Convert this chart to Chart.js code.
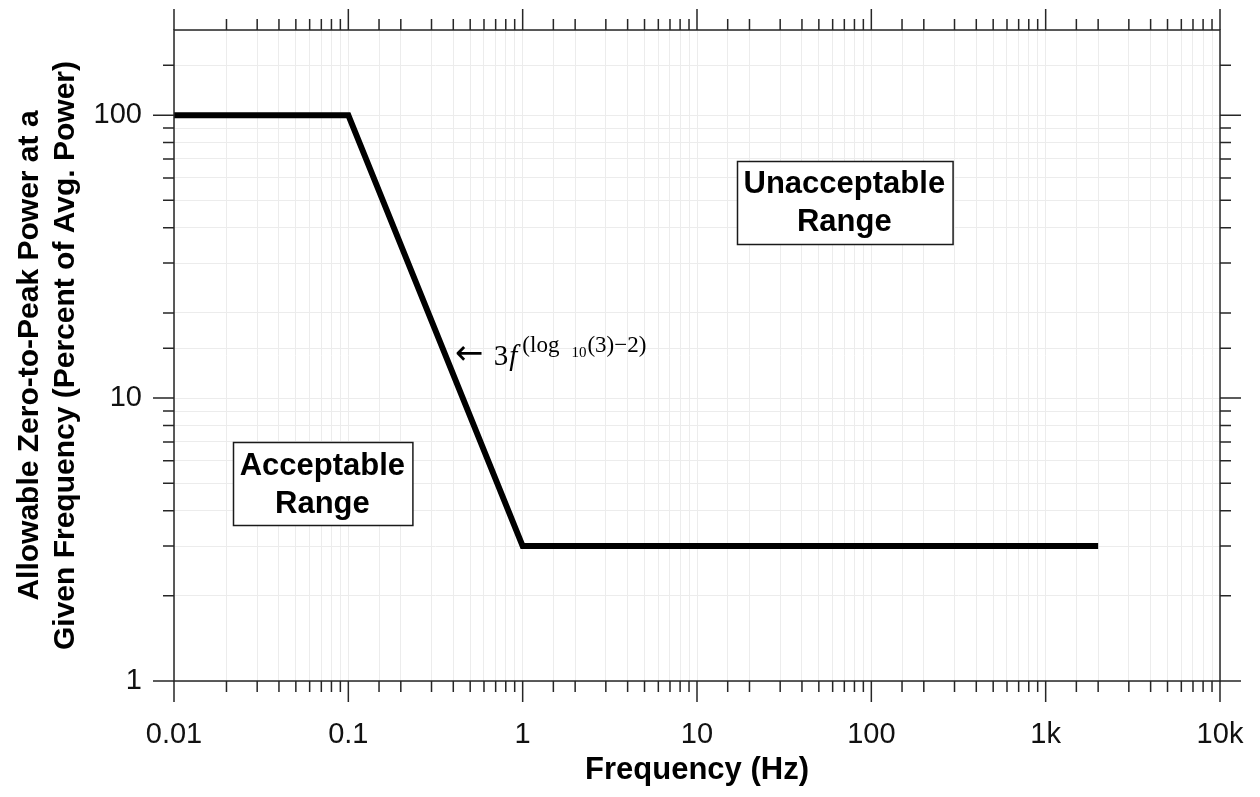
<!DOCTYPE html>
<html>
<head>
<meta charset="utf-8">
<script src="https://cdn.jsdelivr.net/npm/chart.js@4.4.0/dist/chart.umd.min.js"></script>
<style>
html,body{margin:0;padding:0;background:#ffffff;overflow:hidden}
canvas{display:block}
</style>
</head>
<body>
<canvas id="chart" width="1260" height="797"></canvas>
<script>
// ---- data ----
const frequencyHz = [0.01, 0.1, 1, 2000];
const allowablePercent = [100, 100, 3, 3];

const xMajorTicks = [0.01, 0.1, 1, 10, 100, 1000, 10000];
const xMajorLabels = ['0.01', '0.1', '1', '10', '100', '1k', '10k'];
const yMajorTicks = [1, 10, 100];
const yMajorLabels = ['1', '10', '100'];

const xTitle = 'Frequency (Hz)';
const yTitle = ['Allowable Zero-to-Peak Power at a', 'Given Frequency (Percent of Avg. Power)'];

const regionTexts = [['Unacceptable', 'Range'], ['Acceptable', 'Range']];
const regionFreq = [70, 0.071];
const regionPercent = [49, 4.97];

const formulaFreq = 0.408;
const formulaPercent = 14.2;

// ---- helpers ----
function majorIndex(v, majors) {
  const lv = Math.log10(v);
  for (let i = 0; i < majors.length; i++) {
    if (Math.abs(lv - Math.log10(majors[i])) < 1e-6) return i;
  }
  return -1;
}
function isMajor(v) {
  const lv = Math.log10(v);
  return Math.abs(lv - Math.round(lv)) < 1e-6;
}

const AXIS_COLOR = '#262626';
const SANS = '"Liberation Sans", Arial, Helvetica, sans-serif';
const SERIF = '"Liberation Serif", "DejaVu Serif", "Times New Roman", serif';

const decorPlugin = {
  id: 'decor',
  afterDraw(chart) {
    const ctx = chart.ctx;
    const a = chart.chartArea;
    const xs = chart.scales.x, ys = chart.scales.y;
    ctx.save();
    // frame
    ctx.strokeStyle = AXIS_COLOR;
    ctx.lineWidth = 1.5;
    ctx.strokeRect(a.left, a.top, a.right - a.left, a.bottom - a.top);
    // ticks (outward, all four sides)
    ctx.beginPath();
    xs.ticks.forEach(t => {
      const p = xs.getPixelForValue(t.value);
      if (p < a.left - 1 || p > a.right + 1) return;
      const L = isMajor(t.value) ? 21 : 11;
      ctx.moveTo(p, a.bottom); ctx.lineTo(p, a.bottom + L);
      ctx.moveTo(p, a.top); ctx.lineTo(p, a.top - L);
    });
    ys.ticks.forEach(t => {
      const maj = isMajor(t.value);
      if (!maj && t.value >= ys.max) return;
      const p = ys.getPixelForValue(t.value);
      if (p < a.top - 1 || p > a.bottom + 1) return;
      const L = maj ? 21 : 11;
      ctx.moveTo(a.left, p); ctx.lineTo(a.left - L, p);
      ctx.moveTo(a.right, p); ctx.lineTo(a.right + L, p);
    });
    ctx.stroke();

    // region boxes
    ctx.font = 'bold 31px ' + SANS;
    ctx.textAlign = 'center';
    ctx.textBaseline = 'middle';
    regionTexts.forEach((lines, i) => {
      const cx = xs.getPixelForValue(regionFreq[i]);
      const cy = ys.getPixelForValue(regionPercent[i]);
      const w = Math.max(...lines.map(s => ctx.measureText(s).width)) + 14;
      const lh = 38;
      const h = lh * lines.length + 7;
      const x0 = Math.round(cx - w / 2) + 0.5, y0 = Math.round(cy - h / 2) + 0.5;
      ctx.fillStyle = '#ffffff';
      ctx.fillRect(x0, y0, w, h);
      ctx.strokeStyle = '#1a1a1a';
      ctx.lineWidth = 1.5;
      ctx.strokeRect(x0, y0, w, h);
      ctx.fillStyle = '#000000';
      lines.forEach((s, k) => {
        ctx.fillText(s, cx, cy + (k - (lines.length - 1) / 2) * lh + 1);
      });
    });

    // formula annotation
    const fx = xs.getPixelForValue(formulaFreq);
    const fy = ys.getPixelForValue(formulaPercent);
    const base = fy + 10;
    ctx.textAlign = 'left';
    ctx.textBaseline = 'alphabetic';
    ctx.fillStyle = '#000000';
    let cx = fx;
    ctx.font = '34px "DejaVu Sans", ' + SERIF;
    ctx.fillText('\u2190', cx, base - 1);
    cx = fx + 39;
    ctx.font = '29px ' + SERIF;
    ctx.fillText('3', cx, base);
    cx += ctx.measureText('3').width + 1;
    ctx.font = 'italic 29px ' + SERIF;
    ctx.fillText('f', cx, base);
    cx += ctx.measureText('f').width + 5;
    const supBase = base - 13;
    ctx.font = '23px ' + SERIF;
    ctx.fillText('(log', cx, supBase);
    cx += ctx.measureText('(log').width + 12;
    ctx.font = '15px ' + SERIF;
    ctx.fillText('10', cx, supBase + 5);
    cx += ctx.measureText('10').width + 1;
    ctx.font = '23px ' + SERIF;
    ctx.fillText('(3)\u22122)', cx, supBase);

    ctx.restore();
  }
};

const gridColor = '#ececec';

new Chart(document.getElementById('chart'), {
  type: 'line',
  data: {
    datasets: [{
      data: frequencyHz.map((f, i) => ({ x: f, y: allowablePercent[i] })),
      borderColor: '#000000',
      borderWidth: 6,
      pointRadius: 0,
      tension: 0,
      fill: false,
      borderJoinStyle: 'miter',
      borderCapStyle: 'butt'
    }]
  },
  options: {
    responsive: false,
    animation: false,
    devicePixelRatio: 1,
    layout: { padding: { top: 30, right: 40, left: 0, bottom: 0 } },
    plugins: { legend: { display: false }, tooltip: { enabled: false } },
    scales: {
      x: {
        type: 'logarithmic',
        position: 'bottom',
        min: 0.01,
        max: 10000,
        afterFit(s) { s.height = 116; s.paddingLeft = 0; s.paddingRight = 0; },
        grid: { color: gridColor, lineWidth: 1, drawTicks: false },
        border: { display: false },
        ticks: {
          autoSkip: false,
          maxRotation: 0,
          padding: 37,
          color: '#111111',
          font: { family: SANS, size: 29 },
          callback(v) { const i = majorIndex(v, xMajorTicks); return i >= 0 ? xMajorLabels[i] : ''; }
        },
        title: {
          display: true,
          text: xTitle,
          color: '#000000',
          font: { family: SANS, size: 31, weight: 'bold', lineHeight: 1.2 },
          padding: { top: 0, bottom: 8 }
        }
      },
      y: {
        type: 'logarithmic',
        position: 'left',
        min: 1,
        max: 200,
        afterFit(s) { s.width = 174; s.paddingTop = 0; s.paddingBottom = 0; },
        grid: { color: gridColor, lineWidth: 1, drawTicks: false },
        border: { display: false },
        ticks: {
          autoSkip: false,
          padding: 32,
          color: '#111111',
          font: { family: SANS, size: 29 },
          callback(v) { const i = majorIndex(v, yMajorTicks); return i >= 0 ? yMajorLabels[i] : ''; }
        },
        title: {
          display: true,
          text: yTitle,
          color: '#000000',
          font: { family: SANS, size: 30, weight: 'bold', lineHeight: 1.2 },
          padding: { top: 12, bottom: 0 }
        }
      }
    }
  },
  plugins: [decorPlugin]
});
</script>
</body>
</html>
